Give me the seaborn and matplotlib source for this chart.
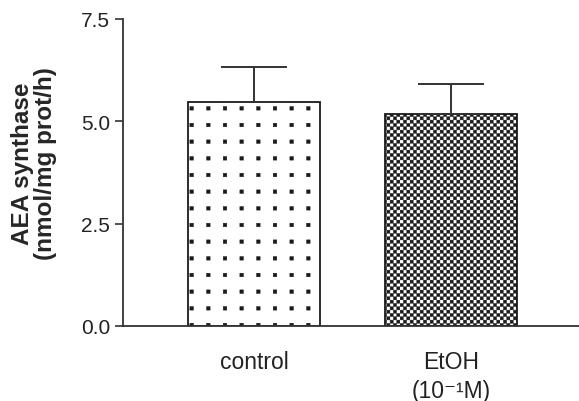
import matplotlib
matplotlib.use("Agg")
import matplotlib.pyplot as plt
import matplotlib.hatch as mhatch
from matplotlib.path import Path
import numpy as np
import seaborn as sns
import warnings

warnings.filterwarnings("ignore")

# data
groups = ["control", "EtOH\n(10⁻¹M)"]
means = [5.47, 5.18]
sem = [0.85, 0.74]
hatches = ["q", "k"]


# square dot grid ("q") and checkerboard ("k") fill patterns
class SquareHatch(mhatch.HatchPatternBase):
    def __init__(self, hatch, density):
        self.centers = []
        self.side = 0
        if "q" in hatch:
            n = 6
            self.side = 0.036
            self.centers = [((i + 0.5) / n, (j + 0.5) / n) for i in range(n) for j in range(n)]
        elif "k" in hatch:
            n = 30
            self.side = 0.031
            self.centers = [((i + 0.5) / n, (j + 0.5) / n) for i in range(n) for j in range(n) if (i + j) % 2 == 0]
        self.num_vertices = 5 * len(self.centers)

    def set_vertices_and_codes(self, vertices, codes):
        sq = np.array([[-1, -1], [1, -1], [1, 1], [-1, 1], [-1, -1]]) * self.side / 2
        for k, c in enumerate(self.centers):
            vertices[5 * k:5 * k + 5] = sq + c
            codes[5 * k] = Path.MOVETO
            codes[5 * k + 1:5 * k + 4] = Path.LINETO
            codes[5 * k + 4] = Path.CLOSEPOLY


mhatch._hatch_types.append(SquareHatch)

sns.set_style("ticks")
plt.rcParams["font.family"] = ["Liberation Sans", "DejaVu Sans"]
plt.rcParams["hatch.linewidth"] = 0.3

fig = plt.figure(figsize=(5.79, 4.02), dpi=100)
ax = fig.add_axes([0.212, 0.1866, 0.788, 0.7637])

sns.barplot(
    x=groups,
    y=means,
    color="white",
    edgecolor="#1a1a1a",
    linewidth=1.3,
    width=0.67,
    errorbar=None,
    ax=ax
)

for bar, h in zip(ax.patches, hatches):
    bar.set_hatch(h)

ax.errorbar(
    range(len(groups)),
    means,
    yerr=[[0] * len(sem), sem],
    fmt="none",
    ecolor="#333333",
    elinewidth=1.4,
    capsize=23.8,
    capthick=1.4
)

ax.set_ylim(0, 7.5)
ax.set_xlim(-0.667, 1.65)
ax.set_yticks([0, 2.5, 5.0, 7.5])
ax.set_yticklabels(["0.0", "2.5", "5.0", "7.5"])

ax.tick_params(axis="y", length=6, width=1.1, pad=3, labelsize=15, colors="#222222")
ax.tick_params(axis="x", length=0, pad=17, labelsize=16.5, colors="#222222")
for lab in ax.get_xticklabels():
    lab.set_linespacing(1.35)

for s in ["left", "bottom"]:
    ax.spines[s].set_linewidth(1.3)
    ax.spines[s].set_color("#333333")
sns.despine(ax=ax)

ax.set_ylabel(
    "AEA synthase\n(nmol/mg prot/h)",
    fontsize=17.5,
    fontweight="bold",
    va="center",
    linespacing=1.0
)
ax.yaxis.set_label_coords((34 - 122.7) / 456.3, (327 - 164) / 307)

fig.savefig("out.png", dpi=100)
